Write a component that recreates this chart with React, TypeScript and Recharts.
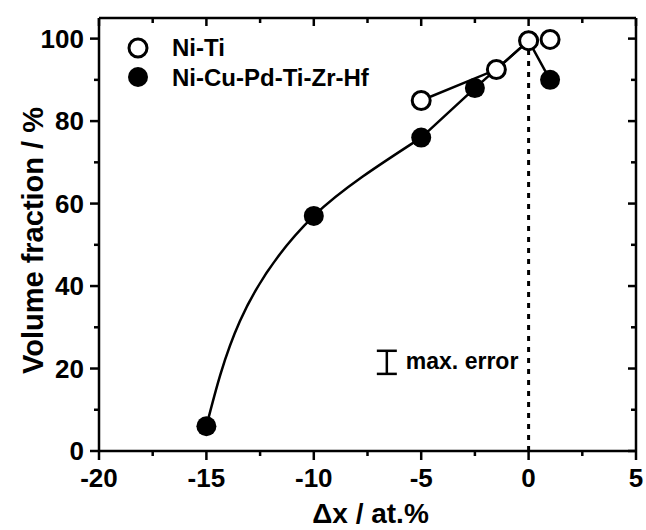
import { ComposedChart, Line, Scatter, XAxis, YAxis, ReferenceLine, ErrorBar, Legend } from 'recharts'

// the page keeps its default 8px body margin; the figure wants the full 646x530
if (typeof document !== 'undefined') document.body.style.margin = '0'

// Δx in at.% against martensite volume fraction in %
const seriesNames = ['Ni-Ti', 'Ni-Cu-Pd-Ti-Zr-Hf']
const niTiDx = [-5, -1.5, 0, 1]
const niTiVf = [85, 92.5, 99.5, 99.8]
const ncphDx = [-15, -10, -5, -2.5, 0, 1]
const ncphVf = [6, 57, 76, 88, 99.5, 90]
const niTiLinked = 3 // only the first three Ni-Ti points are joined
const ncphCurveEnd = 3 // smooth fit over the first three, straight segments after

const xMajor = [-20, -15, -10, -5, 0, 5]
const xMinor = [-17.5, -12.5, -7.5, -2.5, 2.5]
const yMajor = [0, 20, 40, 60, 80, 100]
const yMinor = [10, 30, 50, 70, 90]

const errDx = [-6.6]
const errVf = [21.5]
const errHalf = [2.8]

const FONT = '"Liberation Sans", Arial, Helvetica, sans-serif'
const W = 2.5

const niTi = niTiDx.map((x, i) => ({ x, y: niTiVf[i] }))
const ncph = ncphDx.map((x, i) => ({ x, y: ncphVf[i] }))
const niTiLine = niTi.slice(0, niTiLinked)
const ncphCurve = ncph.slice(0, ncphCurveEnd)
const ncphStraight = ncph.slice(ncphCurveEnd - 1)
const errData = errDx.map((x, i) => ({ x, y: errVf[i], e: errHalf[i] }))

const xTicks = [...xMajor, ...xMinor].sort((a, b) => a - b)
const yTicks = [...yMajor, ...yMinor].sort((a, b) => a - b)
const peak = niTiVf[niTiLinked - 1]

// tickSize/tickMargin are 0, so x/y handed to these is the axis line itself
function BottomTick({ x, y, payload }: any) {
  const major = xMajor.includes(payload.value)
  return (
    <g>
      <line x1={x} x2={x} y1={y} y2={y + (major ? 9 : 5)} stroke="#000" strokeWidth={W} />
      {major && (
        <text x={x} y={y + 36} textAnchor="middle" fontSize={26} fontWeight="bold" fontFamily={FONT} fill="#000">
          {payload.value}
        </text>
      )}
    </g>
  )
}

function TopTick({ x, y, payload }: any) {
  const major = xMajor.includes(payload.value)
  return <line x1={x} x2={x} y1={y} y2={y + (major ? 8 : 5)} stroke="#000" strokeWidth={W} />
}

function LeftTick({ x, y, payload }: any) {
  const major = yMajor.includes(payload.value)
  return (
    <g>
      <line x1={x - (major ? 9 : 5)} x2={x} y1={y} y2={y} stroke="#000" strokeWidth={W} />
      {major && (
        <text x={x - 15} y={y + 9} textAnchor="end" fontSize={26} fontWeight="bold" fontFamily={FONT} fill="#000">
          {payload.value}
        </text>
      )}
    </g>
  )
}

function RightTick({ x, y, payload }: any) {
  const major = yMajor.includes(payload.value)
  return <line x1={x - (major ? 8 : 5)} x2={x} y1={y} y2={y} stroke="#000" strokeWidth={W} />
}

function OpenDot({ cx, cy }: any) {
  return <circle cx={cx} cy={cy} r={9} fill="#fff" stroke="#000" strokeWidth={3} />
}

function FilledDot({ cx, cy }: any) {
  return <circle cx={cx} cy={cy} r={10} fill="#000" />
}

function NoDot() {
  return null
}

function ErrorNote({ cx, cy }: any) {
  return (
    <text x={cx + 19} y={cy + 7} fontSize={23} fontWeight="bold" fontFamily={FONT} fill="#000">
      max. error
    </text>
  )
}

function XTitle({ viewBox }: any) {
  const { x, y, width } = viewBox
  return (
    <text x={x + width / 2 + 3} y={y + 72} textAnchor="middle" fontSize={28} fontWeight="bold" fontFamily={FONT} fill="#000">
      Δx / at.%
    </text>
  )
}

function YTitle({ viewBox }: any) {
  const { x, y, height } = viewBox
  const cx = x + 43
  const cy = y + height / 2 + 6
  return (
    <text x={cx} y={cy} transform={`rotate(-90 ${cx} ${cy})`} textAnchor="middle" fontSize={29} fontWeight="bold" fontFamily={FONT} fill="#000">
      Volume fraction / %
    </text>
  )
}

function LegendBox() {
  return (
    <svg width={420} height={100} style={{ display: 'block' }}>
      <circle cx={138} cy={48} r={9} fill="#fff" stroke="#000" strokeWidth={3} />
      <text x={172} y={56} fontSize={24} fontWeight="bold" fontFamily={FONT} fill="#000">{seriesNames[0]}</text>
      <circle cx={138} cy={77} r={10} fill="#000" />
      <text x={172} y={86} fontSize={24} fontWeight="bold" fontFamily={FONT} fill="#000">{seriesNames[1]}</text>
    </svg>
  )
}

export default function App() {
  return (
    <div style={{ width: 646, height: 530, background: '#fff' }}>
      <ComposedChart width={646} height={530} margin={{ top: 17, right: 9, bottom: 0, left: 0 }}>
        <XAxis
          type="number" dataKey="x" domain={[-20, 5]} allowDataOverflow ticks={xTicks} interval={0}
          tickSize={0} tickMargin={0} tickLine={false} tick={<BottomTick />} height={79}
          axisLine={{ stroke: '#000', strokeWidth: W }} label={XTitle}
        />
        <XAxis
          xAxisId="top" orientation="top" type="number" dataKey="x" domain={[-20, 5]} allowDataOverflow
          ticks={xTicks} interval={0} tickSize={0} tickMargin={0} tickLine={false} tick={<TopTick />} height={1}
          axisLine={{ stroke: '#000', strokeWidth: W }}
        />
        <YAxis
          type="number" dataKey="y" domain={[0, 105]} allowDataOverflow ticks={yTicks} interval={0}
          tickSize={0} tickMargin={0} tickLine={false} tick={<LeftTick />} width={99}
          axisLine={{ stroke: '#000', strokeWidth: W }} label={YTitle}
        />
        <YAxis
          yAxisId="right" orientation="right" type="number" dataKey="y" domain={[0, 105]} allowDataOverflow
          ticks={yTicks} interval={0} tickSize={0} tickMargin={0} tickLine={false} tick={<RightTick />} width={1}
          axisLine={{ stroke: '#000', strokeWidth: W }}
        />
        <ReferenceLine
          segment={[{ x: 0, y: 0 }, { x: 0, y: peak }]}
          stroke="#000" strokeWidth={3} strokeDasharray="5 6"
        />
        <Legend layout="horizontal" align="center" verticalAlign="middle" content={<LegendBox />}
          wrapperStyle={{ left: 0, top: 0, width: 420, height: 100 }} />
        {/* invisible twin so the top/right frame axes have a series bound to them */}
        <Scatter data={niTi} dataKey="y" xAxisId="top" yAxisId="right" shape={<NoDot />} isAnimationActive={false} legendType="none" />
        <Line data={ncphCurve} dataKey="y" type="monotoneY" stroke="#000" strokeWidth={W} dot={false} isAnimationActive={false} legendType="none" />
        <Line data={ncphStraight} dataKey="y" type="linear" stroke="#000" strokeWidth={W} dot={false} isAnimationActive={false} legendType="none" />
        <Line data={niTiLine} dataKey="y" type="linear" stroke="#000" strokeWidth={W} dot={false} isAnimationActive={false} legendType="none" />
        <Scatter data={ncph} dataKey="y" name={seriesNames[1]} shape={<FilledDot />} isAnimationActive={false} />
        <Scatter data={niTi} dataKey="y" name={seriesNames[0]} shape={<OpenDot />} isAnimationActive={false} />
        <Scatter data={errData} dataKey="y" shape={<ErrorNote />} isAnimationActive={false} legendType="none">
          <ErrorBar dataKey="e" direction="y" width={10} stroke="#000" strokeWidth={W} isAnimationActive={false} />
        </Scatter>
      </ComposedChart>
    </div>
  )
}
